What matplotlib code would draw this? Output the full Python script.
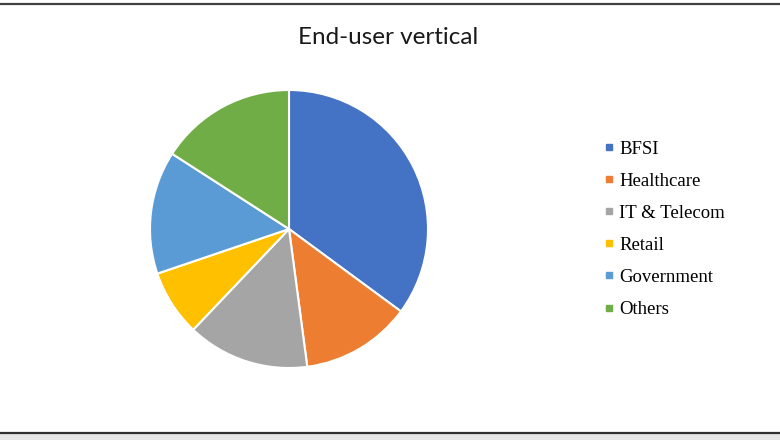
import matplotlib
matplotlib.use('Agg')
from matplotlib import pyplot as plt
from matplotlib.lines import Line2D

# data
labels = ['BFSI', 'Healthcare', 'IT & Telecom', 'Retail', 'Government', 'Others']
shares = [35.1, 12.8, 14.2, 7.7, 14.3, 15.9]
colors = ['#4472C4', '#ED7D31', '#A5A5A5', '#FFC000', '#5B9BD5', '#70AD47']

fig = plt.figure(figsize=(7.8, 4.4), dpi=100)
fig.patch.set_facecolor('white')

# pie: centre (289, 229) px, radius ~139 px
ax = fig.add_axes([(289 - 139) / 780, 1 - (229 + 139) / 440, 278 / 780, 278 / 440])
ax.pie(shares, colors=colors, startangle=90, counterclock=False,
       wedgeprops=dict(edgecolor='white', linewidth=1.5))
ax.set_xlim(-1, 1)
ax.set_ylim(-1, 1)
ax.set_aspect('equal')

fig.text(388 / 780, 1 - 37 / 440, 'End-user vertical', ha='center', va='center',
         fontsize=17.5, family=['Lato', 'DejaVu Sans'], color='#1a1a1a')

# legend
handles = [Line2D([], [], marker='s', linestyle='none', markersize=4.7,
                  markerfacecolor=c, markeredgecolor=c) for c in colors]
fig.legend(handles, labels, loc='upper left', bbox_to_anchor=(596 / 780, 1 - 131 / 440),
           frameon=False, prop={'family': 'Liberation Serif', 'size': 13.5},
           labelspacing=0.8, handlelength=0.4, handletextpad=0.35, borderpad=0)

# frame lines top and bottom
fig.add_artist(Line2D([0, 1], [1 - 4.5 / 440, 1 - 4.5 / 440], color='#404040',
                      linewidth=1.6, transform=fig.transFigure))
fig.add_artist(Line2D([0, 1], [1 - 432.5 / 440, 1 - 432.5 / 440], color='#303030',
                      linewidth=1.6, transform=fig.transFigure))
fig.patches.append(plt.Rectangle((0, 0), 1, 6 / 440, transform=fig.transFigure,
                                 facecolor='#e6e6e6', edgecolor='none'))

fig.savefig('out.png', dpi=100)
